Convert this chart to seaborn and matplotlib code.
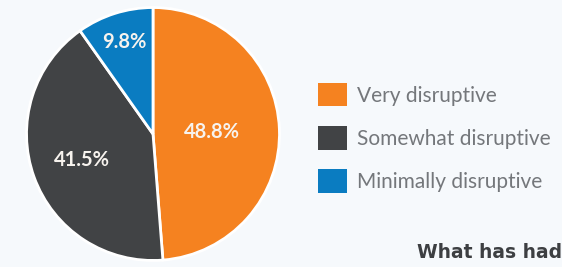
import matplotlib.pyplot as plt
import numpy as np
import seaborn as sns
from matplotlib.patches import Patch

# data
labels = ["Very disruptive", "Somewhat disruptive", "Minimally disruptive"]
shares = [48.8, 41.5, 9.8]
colors = ["#f58220", "#414345", "#0a7cc1"]
pct_dist = [0.47, 0.6, 0.76]
subtitle = "What has had"

sns.set_theme(style="white")
plt.rcParams["font.family"] = ["Lato", "DejaVu Sans"]

bg = "#f6f9fc"
fig = plt.figure(figsize=(5.62, 2.67), dpi=100, facecolor=bg)

# pie axes, centre around (153, 134) px, radius ~129 px
ax = fig.add_axes([24 / 562, 4 / 267, 258 / 562, 258 / 267])
ax.set_facecolor(bg)
wedges, _ = ax.pie(
    shares,
    colors=colors,
    startangle=90,
    counterclock=False,
    wedgeprops=dict(edgecolor="white", linewidth=2),
)
ax.set_xlim(-1.02, 1.02)
ax.set_ylim(-1.02, 1.02)
ax.set_aspect("equal")

for w, v, d in zip(wedges, shares, pct_dist):
    mid = np.deg2rad((w.theta1 + w.theta2) / 2)
    ax.text(d * np.cos(mid), d * np.sin(mid), f"{v}%",
            ha="center", va="center", color="#f7f3ee",
            fontsize=14.5, fontweight="bold")

# legend
handles = [Patch(facecolor=c, edgecolor="none") for c in colors]
fig.legend(
    handles, labels,
    loc="upper left", bbox_to_anchor=(318 / 562, 1 - 83 / 267),
    frameon=False, fontsize=15, labelcolor="#74777b",
    handlelength=1.4, handleheight=1.35, handletextpad=0.45,
    labelspacing=0.95, borderpad=0, borderaxespad=0,
)

fig.text(417 / 562, 1 - 253 / 267, subtitle, ha="left", va="center",
         fontsize=13.5, fontweight="bold", color="#3d3f42",
         family="DejaVu Sans")

fig.savefig("out.png", dpi=100, facecolor=bg)
